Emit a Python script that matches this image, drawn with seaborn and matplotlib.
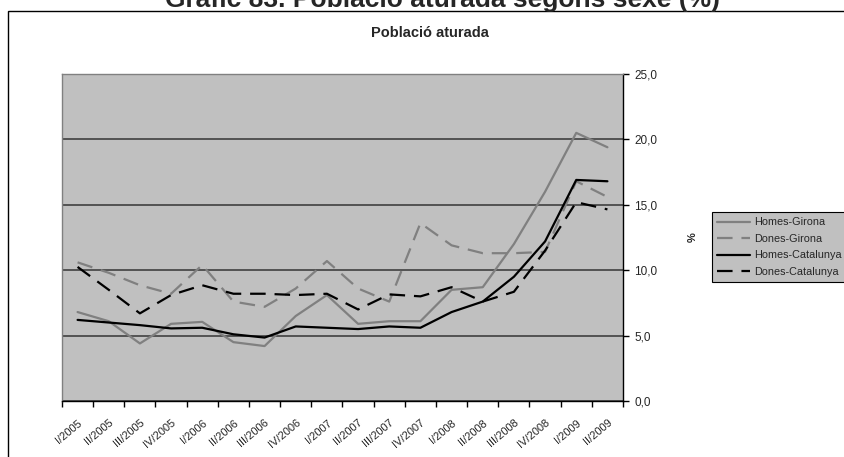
import matplotlib
matplotlib.use("Agg")
import matplotlib.pyplot as plt
import matplotlib.patches as mpatches
from matplotlib.ticker import FuncFormatter
import numpy as np
import pandas as pd
import seaborn as sns

# Data
periods = ["I/2005", "II/2005", "III/2005", "IV/2005", "I/2006", "II/2006", "III/2006", "IV/2006",
           "I/2007", "II/2007", "III/2007", "IV/2007", "I/2008", "II/2008", "III/2008", "IV/2008",
           "I/2009", "II/2009"]
homes_girona = [6.8, 6.1, 4.4, 5.9, 6.05, 4.5, 4.2, 6.5, 8.1, 5.9, 6.1, 6.1, 8.5, 8.7, 12.0, 16.0, 20.5, 19.4]
dones_girona = [10.6, 9.8, 8.85, 8.2, 10.4, 7.6, 7.2, 8.6, 10.7, 8.6, 7.6, 13.6, 11.9, 11.3, 11.3, 11.4, 16.8, 15.6]
homes_catalunya = [6.2, 6.0, 5.8, 5.55, 5.6, 5.1, 4.85, 5.7, 5.6, 5.5, 5.7, 5.6, 6.8, 7.6, 9.5, 12.2, 16.9, 16.8]
dones_catalunya = [10.25, 8.5, 6.7, 8.1, 8.85, 8.2, 8.2, 8.1, 8.2, 7.0, 8.15, 8.0, 8.7, 7.6, 8.35, 11.5, 15.2, 14.65]

series_names = ["Homes-Girona", "Dones-Girona", "Homes-Catalunya", "Dones-Catalunya"]
series_values = [homes_girona, dones_girona, homes_catalunya, dones_catalunya]
series_colors = ["#808080", "#808080", "#000000", "#000000"]
series_dashes = [None, (7, 4), None, (7, 4)]

sns.set_style("white")
plt.rcParams["font.family"] = ["Liberation Sans", "DejaVu Sans"]

fig = plt.figure(figsize=(8.45, 4.57), dpi=100)
ax = fig.add_axes([62 / 845, 56 / 457, 561 / 845, 327 / 457])
ax.set_facecolor("#C0C0C0")

# outer chart frame (runs off the right and bottom edges like the reference)
fig.patches.append(mpatches.Rectangle((8 / 845, -0.05), 1.0, 1 - 11 / 457 + 0.05,
                                      transform=fig.transFigure, fill=False,
                                      edgecolor="black", linewidth=1.0, zorder=0))

x = np.arange(len(periods))
for name, vals, col, dash in zip(series_names, series_values, series_colors, series_dashes):
    df = pd.DataFrame({"x": x, "y": vals})
    sns.lineplot(data=df, x="x", y="y", color=col, linewidth=1.6, ax=ax, label=name)
    if dash is not None:
        ax.lines[-1].set_dashes(dash)

ax.set_xlim(-0.5, len(periods) - 0.5)
ax.set_ylim(0, 25)
ax.set_yticks(np.arange(0, 26, 5))
ax.yaxis.set_major_formatter(FuncFormatter(lambda v, p: f"{v:.1f}".replace(".", ",")))
ax.yaxis.tick_right()
ax.yaxis.set_label_position("right")
ax.grid(axis="y", color="#404040", linewidth=1.2)
ax.set_axisbelow(True)

ax.set_xticks(x)
ax.set_xticklabels(periods, rotation=40, ha="right", rotation_mode="anchor", fontsize=8)
ax.set_xticks(np.arange(-0.5, len(periods)), minor=True)
ax.tick_params(axis="x", which="major", length=0, pad=12)
ax.tick_params(axis="x", which="minor", length=4, width=1, color="black", direction="out", bottom=True)
ax.tick_params(axis="y", length=4, width=1, color="black", direction="out", labelsize=8.5, pad=4, right=True)

for side in ["left", "top"]:
    ax.spines[side].set_color("#808080")
    ax.spines[side].set_linewidth(1.0)
for side in ["right", "bottom"]:
    ax.spines[side].set_color("black")
    ax.spines[side].set_linewidth(1.0)

ax.set_xlabel("")
ax.set_ylabel("%", rotation=90, fontsize=8, fontweight="bold", labelpad=22)

leg = ax.legend(loc="upper left", bbox_to_anchor=(712 / 845, 1 - 212 / 457), bbox_transform=fig.transFigure,
                frameon=True, fancybox=False, fontsize=7.8, handlelength=3.0, handletextpad=0.4,
                labelspacing=0.6, borderpad=0.5, borderaxespad=0)
leg.get_frame().set_facecolor("#C0C0C0")
leg.get_frame().set_edgecolor("black")
leg.get_frame().set_linewidth(0.8)
leg.get_frame().set_alpha(1)

# main title sits partly above the image edge in the reference
fig.text(443 / 845, 1 - 7 / 457, "Gràfic 83. Població aturada segons sexe (%)", ha="center",
         va="baseline", fontsize=19, fontweight="bold")
fig.text(430 / 845, 1 - 33 / 457, "Població aturada", ha="center", va="center",
         fontsize=10.5, fontweight="bold")

fig.savefig("out.png", dpi=100)
